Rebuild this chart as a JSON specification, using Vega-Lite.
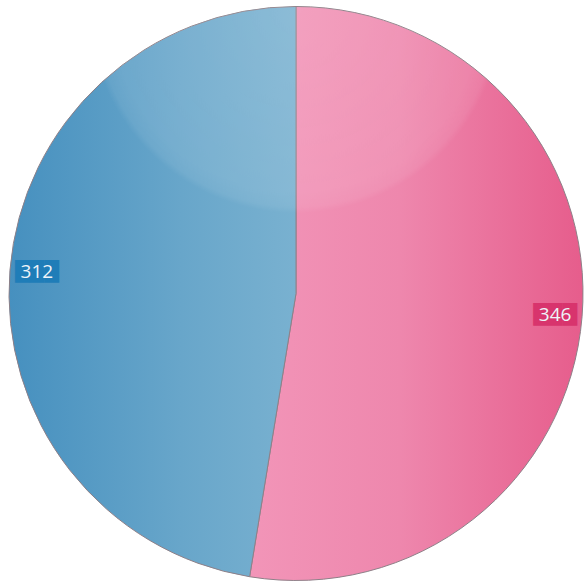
{
  "$schema": "https://vega.github.io/schema/vega-lite/v6.json",
  "width": 578,
  "height": 581,
  "padding": {"left": 7, "top": 3, "right": 0, "bottom": 0},
  "autosize": {"type": "none"},
  "background": "white",
  "view": {"stroke": null},
  "data": {"values": [
    {"category": "A", "value": 346, "rank": 1},
    {"category": "B", "value": 312, "rank": 2}
  ]},
  "encoding": {
    "theta": {"field": "value", "type": "quantitative", "stack": true},
    "order": {"field": "rank", "type": "quantitative"}
  },
  "layer": [
    {
      "mark": {"type": "arc", "radius": 287, "stroke": "#8e8088", "strokeWidth": 1},
      "encoding": {
        "fill": {
          "condition": {
            "test": "datum.category === 'A'",
            "value": {"gradient": "linear", "x1": 0, "y1": 0.5, "x2": 1, "y2": 0.5,
              "stops": [{"offset": 0, "color": "#f295b8"}, {"offset": 0.45, "color": "#ee87ad"}, {"offset": 1, "color": "#e65d8c"}]}
          },
          "value": {"gradient": "linear", "x1": 0, "y1": 0.5, "x2": 1, "y2": 0.5,
            "stops": [{"offset": 0, "color": "#4690bf"}, {"offset": 0.6, "color": "#68a6ca"}, {"offset": 1, "color": "#79b1d0"}]}
        }
      }
    },
    {
      "data": {"values": [{"k": "gloss"}]},
      "mark": {"type": "arc", "radius": 287, "theta": 0, "theta2": 6.2832,
        "fill": {"gradient": "radial", "x1": 0.5, "y1": 0.0, "r1": 0, "x2": 0.5, "y2": 0.0, "r2": 0.36,
          "stops": [{"offset": 0, "color": "rgba(255,255,255,0.14)"}, {"offset": 0.9, "color": "rgba(255,255,255,0.1)"}, {"offset": 0.97, "color": "rgba(255,255,255,0.07)"}, {"offset": 1, "color": "rgba(255,255,255,0)"}]}},
      "encoding": {"theta": null, "order": null}
    },
    {
      "mark": {"type": "text", "radius": 260, "font": "DejaVu Sans", "fontSize": 19, "align": "center", "baseline": "middle"},
      "encoding": {
        "text": {"value": "███"},
        "fill": {"condition": {"test": "datum.category === 'A'", "value": "#d8346d"}, "value": "#1f7db8"}
      }
    },
    {
      "mark": {"type": "text", "radius": 260, "font": "Open Sans", "fontSize": 19, "align": "center", "baseline": "middle", "fill": "#eef4f8"},
      "encoding": {
        "text": {"field": "value", "type": "quantitative"}
      }
    }
  ]
}
